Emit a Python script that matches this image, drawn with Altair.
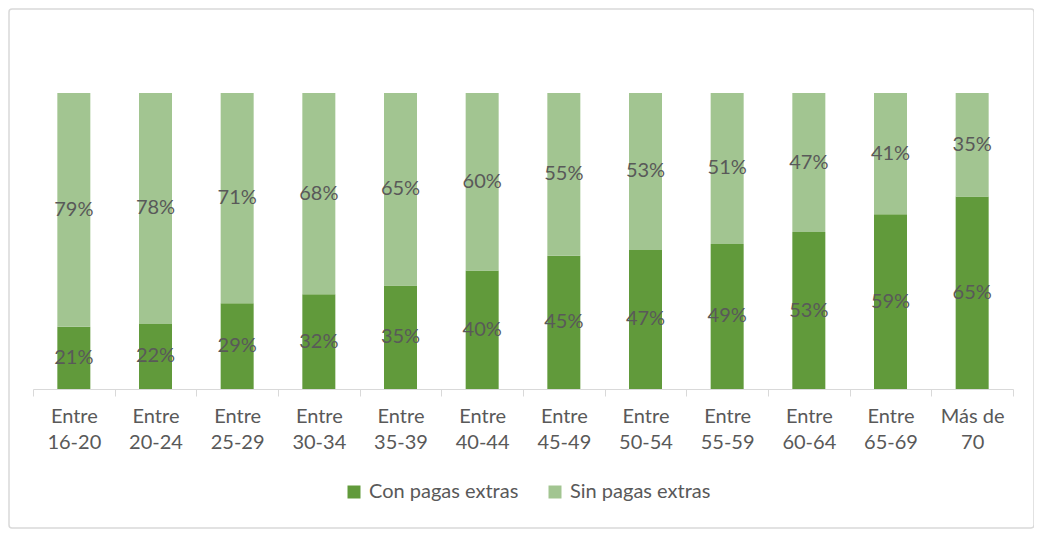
import altair as alt
import pandas as pd

categories = ["Entre|16-20", "Entre|20-24", "Entre|25-29", "Entre|30-34", "Entre|35-39",
              "Entre|40-44", "Entre|45-49", "Entre|50-54", "Entre|55-59", "Entre|60-64",
              "Entre|65-69", "Más de|70"]
con_pagas = [21, 22, 29, 32, 35, 40, 45, 47, 49, 53, 59, 65]
sin_pagas = [79, 78, 71, 68, 65, 60, 55, 53, 51, 47, 41, 35]
series = ["Con pagas extras", "Sin pagas extras"]
colors = ["#619A3B", "#A2C591"]

rows = []
for c, a, b in zip(categories, con_pagas, sin_pagas):
    rows.append({"cat": c, "serie": series[0], "val": a, "ord": 0})
    rows.append({"cat": c, "serie": series[1], "val": b, "ord": 1})
df = pd.DataFrame(rows)

FONT = "Lato"
GRAY = "#595959"
FS = 20

base = alt.Chart(df).transform_stack(
    stack="val", groupby=["cat"], as_=["v0", "v1"], sort=[alt.SortField("ord")]
).transform_calculate(mid="(datum.v0 + datum.v1) / 2", lab="datum.val + '%'")

xscale = alt.Scale(paddingInner=0, paddingOuter=0, round=False)
x = alt.X(
    "cat:N", sort=categories, scale=xscale,
    axis=alt.Axis(
        title=None, labelAngle=0, labelExpr="split(datum.label, '|')",
        labelFont=FONT, labelFontSize=FS, labelColor=GRAY, labelLineHeight=26,
        labelPadding=10, domainColor="#d9d9d9", tickColor="#d9d9d9", tickSize=7,
        tickBand="extent", grid=False,
    ),
)
yscale = alt.Scale(domain=[0, 100])

bars = base.mark_bar(width=33).encode(
    x=x,
    y=alt.Y("v0:Q", scale=yscale, axis=None),
    y2="v1:Q",
    color=alt.Color(
        "serie:N", scale=alt.Scale(domain=series, range=colors),
        legend=alt.Legend(
            title=None, orient="none", direction="horizontal", legendX=311, legendY=389,
            symbolType="square", symbolSize=169, symbolStrokeWidth=0,
            labelFont=FONT, labelFontSize=FS, labelColor=GRAY, labelOffset=5,
            columnPadding=26, padding=0,
        ),
    ),
    order=alt.Order("ord:Q"),
)

labels = base.mark_text(font=FONT, fontSize=FS, color=GRAY).encode(
    x=alt.X("cat:N", sort=categories, scale=xscale),
    y=alt.Y("mid:Q", scale=yscale),
    text="lab:N",
)

border = alt.Chart(alt.Data(values=[{"a": 1}])).mark_rect(
    fill="transparent", stroke="#d9d9d9", strokeWidth=1.5, cornerRadius=3, clip=False
).encode(
    x=alt.value(-24), x2=alt.value(1001), y=alt.value(-84), y2=alt.value(435)
)

chart = alt.layer(bars, labels, border).properties(
    width=980, height=296, autosize="none",
    padding={"left": 25, "top": 85, "right": 21, "bottom": 140},
).configure_view(stroke=None)

chart.save("out.html", embed_options={"renderer": "svg", "actions": False})
